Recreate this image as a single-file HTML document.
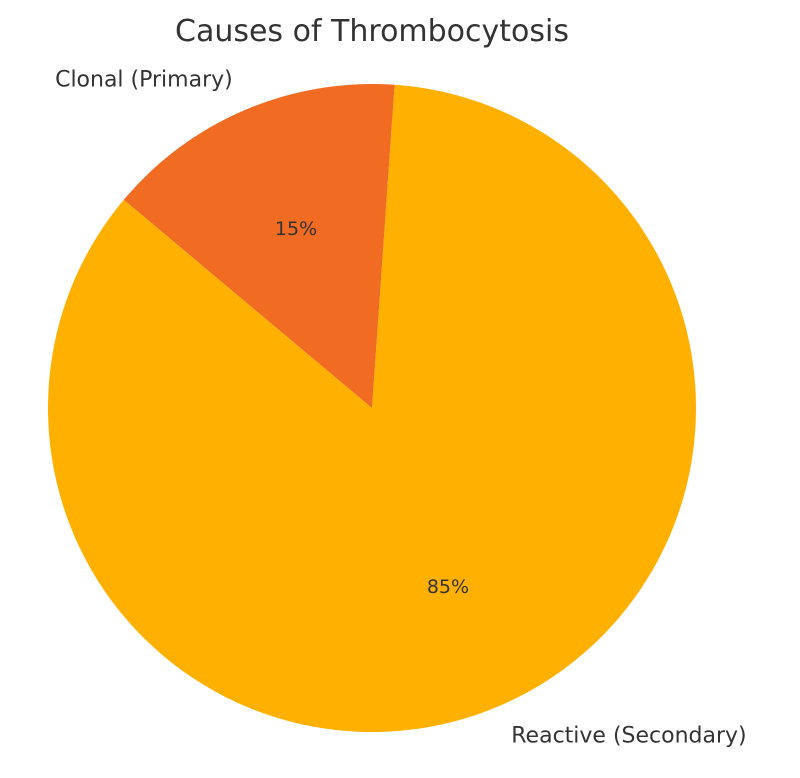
<!DOCTYPE html>
<html>
<head>
<meta charset="utf-8">
<style>
  html, body { margin: 0; padding: 0; background: #ffffff; }
  svg { display: block; }
  text { font-family: "DejaVu Sans", "Liberation Sans", sans-serif; fill: #333333; }
</style>
</head>
<body>
<svg id="chart" width="800" height="778" viewBox="0 0 800 778">
  <text x="372" y="41" font-size="30" text-anchor="middle">Causes of Thrombocytosis</text>
  <g id="slices"></g>
  <g id="labels"></g>
</svg>
<script>
const categories = ["Reactive (Secondary)", "Clonal (Primary)"];
const values = [85, 15];
const colors = ["#FFB000", "#F26B22"];
const startAngle = 140;

const cx = 372, cy = 408, r = 324;
const ns = "http://www.w3.org/2000/svg";
const slicesG = document.getElementById("slices");
const labelsG = document.getElementById("labels");
const total = values.reduce((a, b) => a + b, 0);
function pt(angDeg, rad) {
  const a = angDeg * Math.PI / 180;
  return [cx + rad * Math.cos(a), cy - rad * Math.sin(a)];
}
let ang = startAngle;
values.forEach((v, i) => {
  const sweep = v / total * 360;
  const a0 = ang, a1 = ang + sweep;
  const p0 = pt(a0, r), p1 = pt(a1, r);
  const large = sweep > 180 ? 1 : 0;
  const path = document.createElementNS(ns, "path");
  path.setAttribute("d", `M${cx},${cy} L${p0[0]},${p0[1]} A${r},${r} 0 ${large} 0 ${p1[0]},${p1[1]} Z`);
  path.setAttribute("fill", colors[i]);
  
  
  slicesG.appendChild(path);

  const mid = (a0 + a1) / 2;
  const lp = pt(mid, r * 1.1);
  const cosm = Math.cos(mid * Math.PI / 180);
  const lab = document.createElementNS(ns, "text");
  lab.setAttribute("x", lp[0]);
  lab.setAttribute("y", lp[1]);
  lab.setAttribute("font-size", "22");
  lab.setAttribute("text-anchor", cosm < 0 ? "end" : "start");
  lab.setAttribute("dominant-baseline", "central");
  lab.textContent = categories[i];
  
  
  labelsG.appendChild(lab);

  const pp = pt(mid, r * 0.6);
  const pct = document.createElementNS(ns, "text");
  pct.setAttribute("x", pp[0]);
  pct.setAttribute("y", pp[1]);
  pct.setAttribute("font-size", "19");
  pct.setAttribute("text-anchor", "middle");
  pct.setAttribute("dominant-baseline", "central");
  pct.textContent = Math.round(v / total * 100) + "%";
  
  
  labelsG.appendChild(pct);

  ang = a1;
});
</script>
</body>
</html>
